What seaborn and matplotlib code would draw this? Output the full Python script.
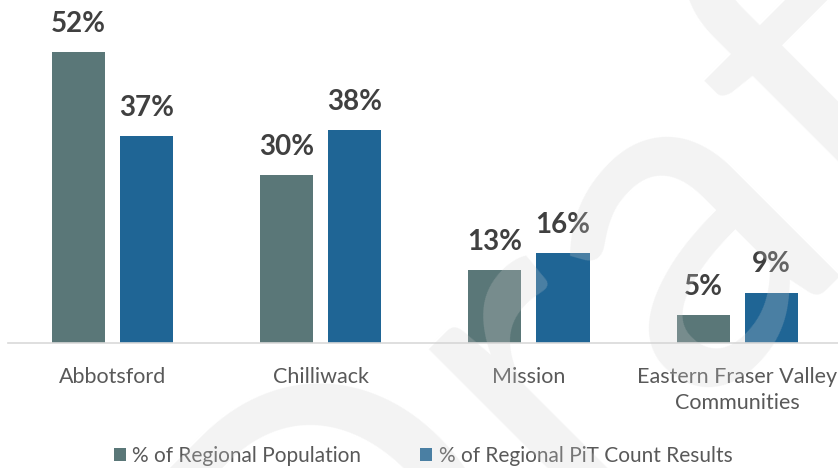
import numpy as np
import pandas as pd
import seaborn as sns
from matplotlib import pyplot as plt

# データ
communities = ["Abbotsford", "Chilliwack", "Mission", "Eastern Fraser Valley\nCommunities"]
population = [52, 30, 13, 5]
pit_count = [37, 38, 16, 9]
series_names = ["% of Regional Population", "% of Regional PiT Count Results"]
colors = ["#5a7778", "#1f6595"]

df = pd.DataFrame({
    "community": communities * 2,
    "value": population + pit_count,
    "series": [series_names[0]] * 4 + [series_names[1]] * 4,
})

sns.set_style("white")
plt.rcParams['font.family'] = ['Lato', 'DejaVu Sans']

fig = plt.figure(figsize=(8.38, 4.68), dpi=100)
ax = fig.add_axes([8 / 838, 125 / 468, 830 / 838, 336 / 468])

sns.barplot(data=df, x="community", y="value", hue="series",
            palette=colors, width=0.654, gap=0.22, ax=ax,
            edgecolor="none", saturation=1)

ax.set_xlim(-0.5, 3.483)
ax.set_ylim(0, 60)
ax.set_xlabel("")
ax.set_ylabel("")
ax.set_yticks([])
for s in ["top", "right", "left"]:
    ax.spines[s].set_visible(False)
ax.spines["bottom"].set_color("#d9d9d9")
ax.spines["bottom"].set_linewidth(1.2)
ax.tick_params(axis="x", length=0, pad=17, labelsize=15.5, labelcolor="#595959")
for lbl in ax.get_xticklabels():
    lbl.set_linespacing(1.4)

# 値ラベル
for cont in ax.containers:
    ax.bar_label(cont, labels=["%d%%" % v for v in cont.datavalues],
                 padding=11, fontsize=20, fontweight="bold", color="#404040")

ax.legend(loc="upper center", bbox_to_anchor=(0.5, -0.25), ncol=2, frameon=False,
          fontsize=15, labelcolor="#595959", handlelength=0.6, handleheight=0.6,
          handletextpad=0.3, columnspacing=2.8)

# うすい透かし
fig.text(0.72, 0.40, "Draft", fontsize=340, rotation=45, ha="center", va="center",
         color="#d0d0d0", alpha=0.25, fontweight="normal", zorder=10)

plt.savefig("out.png", dpi=100)
